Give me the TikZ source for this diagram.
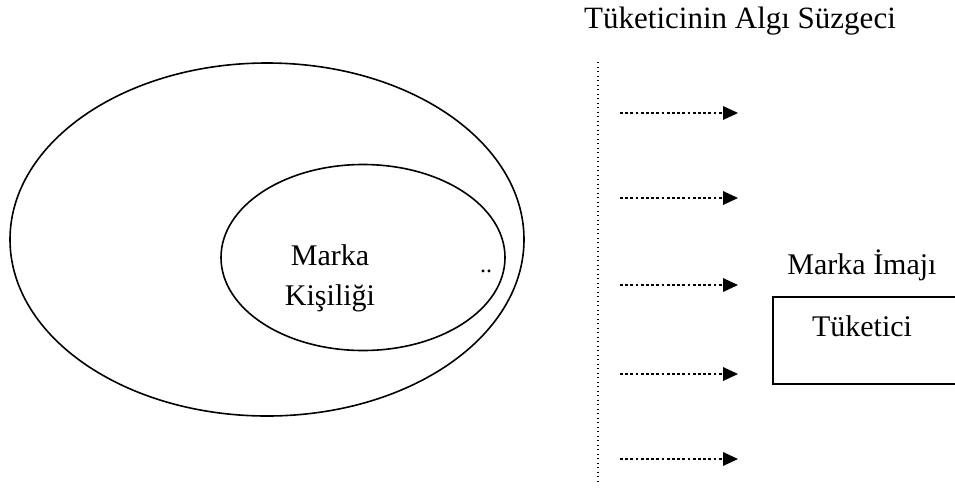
\documentclass[tikz,border=0pt]{standalone}
\usepackage{fontspec}
\setmainfont{Liberation Serif}
\usetikzlibrary{arrows.meta}
\begin{document}
\begin{tikzpicture}[x=1pt,y=-1pt,
  lbl/.style={font=\fontsize{30}{40}\selectfont, inner sep=0pt},
  ring/.style={draw=black, line width=1.6pt},
  filterline/.style={line width=1.2pt, dash pattern=on 1.2pt off 3.3pt},
  flow/.style={line width=2.8pt, dash pattern=on 2.8pt off 2.4pt,
    -{Triangle[length=15pt,width=14pt,line width=0pt]}},
  framebox/.style={draw=black, line width=1.6pt}]
  \useasboundingbox (0,0) rectangle (955,488);
  \clip (0,0) rectangle (955,488);

  % brand personality inside the brand identity
  \draw[ring] (267,239.5) ellipse [x radius=257, y radius=176.5];
  \draw[ring] (363,257.5) ellipse [x radius=142, y radius=93];
  \node[lbl, align=center] (kisilik) at (330,278) {Marka\\Kişiliği};
  \node[lbl, font=\fontsize{24}{24}\selectfont] (nokta) at (486,271) {..};

  % consumer perception filter
  \node[lbl, anchor=base, font=\fontsize{31}{40}\selectfont] (suzgec) at (740,28) {Tüketicinin Algı Süzgeci};
  \coordinate (filtreUst) at (598,62);
  \coordinate (filtreAlt) at (598,483);
  \draw[filterline] (filtreUst) -- (filtreAlt);

  % arrows passing through the filter
  \foreach \i/\yy in {1/113,2/198,3/285,4/374,5/459}{
    \coordinate (a\i) at (620,\yy);
    \coordinate (b\i) at (738,\yy);
    \draw[flow] (a\i) -- (b\i);
  }

  % brand image held by the consumer
  \node[lbl, anchor=base] (imaj) at (862,274) {Marka İmajı};
  \node[framebox, anchor=north west, minimum width=200pt, minimum height=87pt]
    (tuketici) at (772,296) {};
  \node[lbl, anchor=base] (tuketiciYazi) at (862,336) {Tüketici};
\end{tikzpicture}
\end{document}
